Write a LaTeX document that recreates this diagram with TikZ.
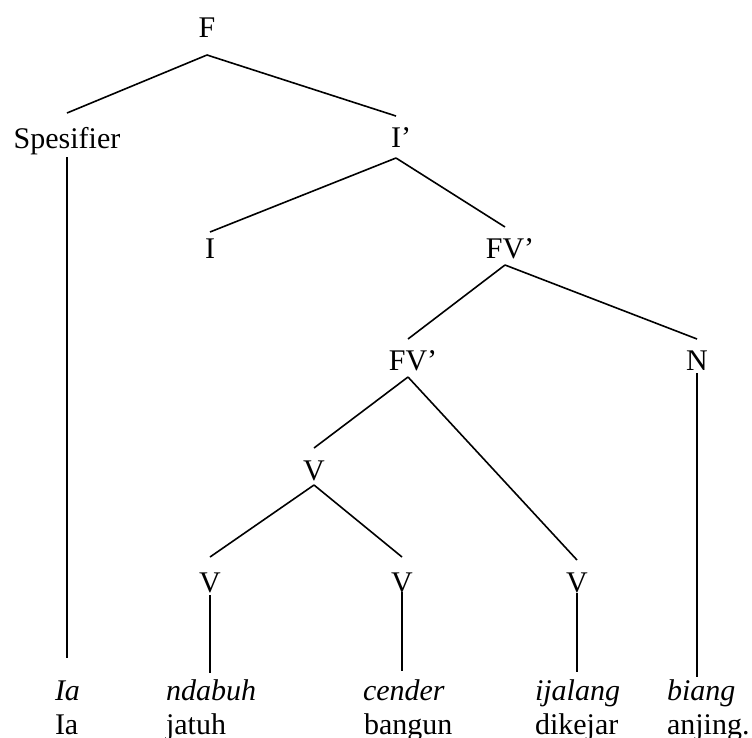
\documentclass[tikz,border=0pt]{standalone}
\usepackage{fontspec}
\setmainfont{Liberation Serif}
\begin{document}
\begin{tikzpicture}[x=1pt,y=-1pt,
  % tree label: #1 = gap above the baseline to the incoming line, #2 = gap below to the outgoing lines
  lab/.style 2 args={inner sep=0pt, outer sep=0pt, anchor=base,
    font=\fontsize{30}{36}\selectfont, text height=#1pt, text depth=#2pt},
  word/.style={inner sep=0pt, outer sep=0pt, anchor=base west,
    font=\fontsize{30}{36}\selectfont},
  branch/.style={line width=1.6pt}]
\useasboundingbox (0,0) rectangle (752,737);

% tree labels
\node[lab={20}{18}] (F)   at (207,37)  {F};
\node[lab={35}{9}]  (Sp)  at (67,148)  {Spesifier};
\node[lab={31}{11}] (Ip)  at (396,147) {I\rlap{’}};
\node[lab={26}{0}]  (I)   at (210,258) {I};
\node[lab={31}{7}]  (FV1) at (505,258) {FV\rlap{’}};
\node[lab={31}{7}]  (FV2) at (408,370) {FV\rlap{’}};
\node[lab={31}{3}]  (N)   at (697,370) {N};
\node[lab={32}{5}]  (Vm)  at (314,480) {V};
\node[lab={35}{3}]  (V1)  at (210,592) {V};
\node[lab={35}{0}]  (V2)  at (402,592) {V};
\node[lab={32}{1}]  (V3)  at (577,592) {V};

% words (italic) and glosses
\node[word, text height=42pt] (w1) at (55,700)  {\itshape Ia};
\node[word, text height=27pt] (w2) at (166,700) {\itshape ndabuh};
\node[word, text height=29pt] (w3) at (363,700) {\itshape cender};
\node[word, text height=28pt] (w4) at (535,700) {\itshape ijalang};
\node[word, text height=23pt] (w5) at (667,700) {\itshape biang};

\node[word] (g1) at (55,734)  {Ia};
\node[word] (g2) at (166,734) {jatuh};
\node[word] (g3) at (364,734) {bangun};
\node[word] (g4) at (535,734) {dikejar};
\node[word] (g5) at (667,734) {anjing.};

% branches
\draw[branch] (F.south) -- (Sp.north);
\draw[branch] (F.south) -- (Ip.north);
\draw[branch] (Ip.south) -- (I.north);
\draw[branch] (Ip.south) -- (FV1.north);
\draw[branch] (FV1.south) -- (FV2.north);
\draw[branch] (FV1.south) -- (N.north);
\draw[branch] (FV2.south) -- (Vm.north);
\draw[branch] (FV2.south) -- (V3.north);
\draw[branch] (Vm.south) -- (V1.north);
\draw[branch] (Vm.south) -- (V2.north);

% vertical lines down to the words
\draw[branch] (Sp.south) -- (Sp.south |- w1.north);
\draw[branch] (V1.south) -- (V1.south |- w2.north);
\draw[branch] (V2.south) -- (V2.south |- w3.north);
\draw[branch] (V3.south) -- (V3.south |- w4.north);
\draw[branch] (N.south)  -- (N.south |- w5.north);
\end{tikzpicture}
\end{document}
